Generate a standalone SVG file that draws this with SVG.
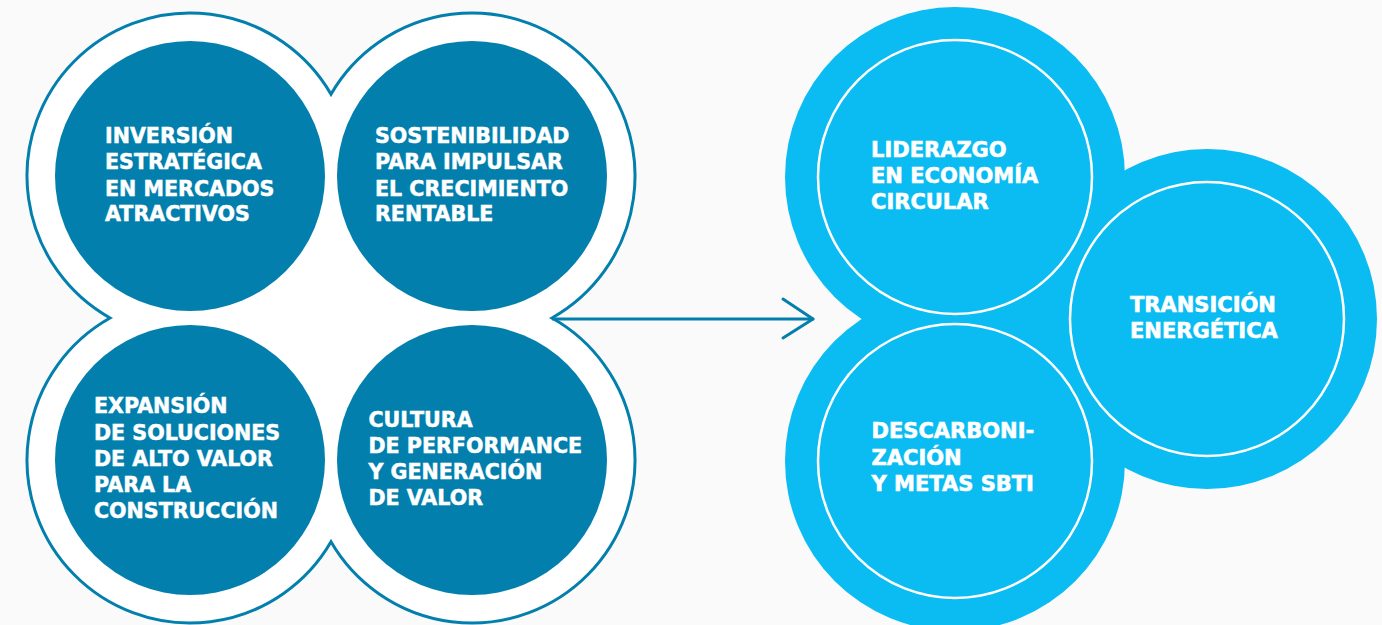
<svg xmlns="http://www.w3.org/2000/svg" width="1382" height="625" viewBox="0 0 1382 625">
<defs>
<style>
.dark{fill:#037FAD;}
.light{fill:#0ABCF2;}
.ring{fill:none;stroke:#FFFFFF;stroke-width:2.5;}
.outline{fill:#FFFFFF;stroke:#037FAD;stroke-width:3;stroke-linejoin:miter;}
.conn{fill:none;stroke:#037FAD;stroke-width:3;stroke-linecap:round;stroke-linejoin:round;}
.lt{font-family:"DejaVu Sans",sans-serif;font-weight:bold;font-size:20.6px;fill:#FFFFFF;stroke:#FFFFFF;stroke-width:0.5;}
.rt{font-family:"DejaVu Sans",sans-serif;font-weight:bold;font-size:21px;fill:#FFFFFF;stroke:#FFFFFF;stroke-width:0.6;}
</style>
</defs>
<rect x="0" y="0" width="1382" height="625" fill="#FAFAFA"/>

<g id="left-cluster-outline">
<path class="outline" d="M331,94.2 A163,163 0 1 1 552,318 A163,163 0 1 1 331,541.8 A163,163 0 1 1 110,318 A163,163 0 1 1 331,94.2 Z"/>
</g>

<g id="node-inversion">
<circle class="dark" cx="190" cy="176" r="135"/>
<text class="lt"><tspan x="105" y="143.3">INVERSIÓN</tspan><tspan x="105" y="169.3">ESTRATÉGICA</tspan><tspan x="105" y="195.5">EN MERCADOS</tspan><tspan x="105" y="221.3">ATRACTIVOS</tspan></text>
</g>

<g id="node-sostenibilidad">
<circle class="dark" cx="472" cy="176" r="135"/>
<text class="lt"><tspan x="375" y="143.3">SOSTENIBILIDAD</tspan><tspan x="375" y="169.3">PARA IMPULSAR</tspan><tspan x="375" y="195.5">EL CRECIMIENTO</tspan><tspan x="375" y="221.3">RENTABLE</tspan></text>
</g>

<g id="node-expansion">
<circle class="dark" cx="190" cy="460" r="135"/>
<text class="lt"><tspan x="94" y="413.3">EXPANSIÓN</tspan><tspan x="94" y="439.5">DE SOLUCIONES</tspan><tspan x="94" y="466">DE ALTO VALOR</tspan><tspan x="94" y="492">PARA LA</tspan><tspan x="94" y="518">CONSTRUCCIÓN</tspan></text>
</g>

<g id="node-cultura">
<circle class="dark" cx="472" cy="460" r="135"/>
<text class="lt"><tspan x="368.5" y="427.3">CULTURA</tspan><tspan x="368.5" y="453.3">DE PERFORMANCE</tspan><tspan x="368.5" y="479">Y GENERACIÓN</tspan><tspan x="368.5" y="504.5">DE VALOR</tspan></text>
</g>

<g id="connectors">
<line class="conn" x1="553" y1="319" x2="813" y2="319"/>
<polyline class="conn" points="783,299 813,319 783,338"/>
</g>

<g id="right-cluster-background">
<circle class="light" cx="955" cy="177" r="170"/>
<circle class="light" cx="955" cy="461" r="170"/>
<circle class="light" cx="1207" cy="319" r="170"/>
</g>

<g id="node-liderazgo">
<circle class="ring" cx="955" cy="177" r="137"/>
<text class="rt"><tspan x="871" y="157.3">LIDERAZGO</tspan><tspan x="871" y="183.3">EN ECONOMÍA</tspan><tspan x="871" y="209.3">CIRCULAR</tspan></text>
</g>

<g id="node-descarbonizacion">
<circle class="ring" cx="955" cy="461" r="137"/>
<text class="rt"><tspan x="871.5" y="438.3">DESCARBONI-</tspan><tspan x="871.5" y="464.7">ZACIÓN</tspan><tspan x="871.5" y="491">Y METAS SBTI</tspan></text>
</g>

<g id="node-transicion">
<circle class="ring" cx="1207" cy="319" r="137"/>
<text class="rt"><tspan x="1130" y="312.3">TRANSICIÓN</tspan><tspan x="1130" y="338.3">ENERGÉTICA</tspan></text>
</g>
</svg>
